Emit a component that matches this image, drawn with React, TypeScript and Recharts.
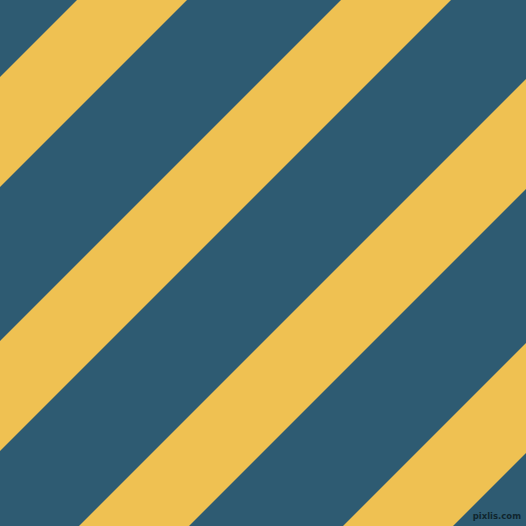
import { ComposedChart, Area, XAxis, YAxis } from "recharts";

const SIZE = 526;
const BLUE = "#2e5b72";
const YELLOW = "#efc152";

// stripe edges as x+y offsets (screen pixels, 45° bands)
const stripeStarts = [77, 341, 605, 869];
const stripeEnds = [187, 451, 715, 979];
const xs = [0, 526];

const data = xs.map((x) => {
  const row: Record<string, number | number[]> = { x };
  stripeStarts.forEach((s, i) => {
    row[`s${i}`] = [s - x, stripeEnds[i] - x];
  });
  return row;
});

export default function App() {
  return (
    <div
      style={{
        position: "absolute",
        left: 0,
        top: 0,
        width: SIZE,
        height: SIZE,
        background: BLUE,
      }}
    >
      <ComposedChart width={SIZE} height={SIZE} data={data} margin={{ top: 0, right: 0, bottom: 0, left: 0 }}>
        <XAxis dataKey="x" type="number" domain={[0, SIZE]} allowDataOverflow hide />
        <YAxis type="number" domain={[0, SIZE]} reversed allowDataOverflow hide />
        {stripeStarts.map((_, i) => (
          <Area
            key={i}
            type="linear"
            dataKey={`s${i}`}
            stroke="none"
            fill={YELLOW}
            fillOpacity={1}
            isAnimationActive={false}
            dot={false}
            activeDot={false}
          />
        ))}
      </ComposedChart>
      <div
        style={{
          position: "absolute",
          right: 5,
          bottom: 5,
          fontFamily: "DejaVu Sans",
          fontSize: 8.5,
          fontWeight: "bold",
          color: "#10262f",
        }}
      >
        pixlis.com
      </div>
    </div>
  );
}
